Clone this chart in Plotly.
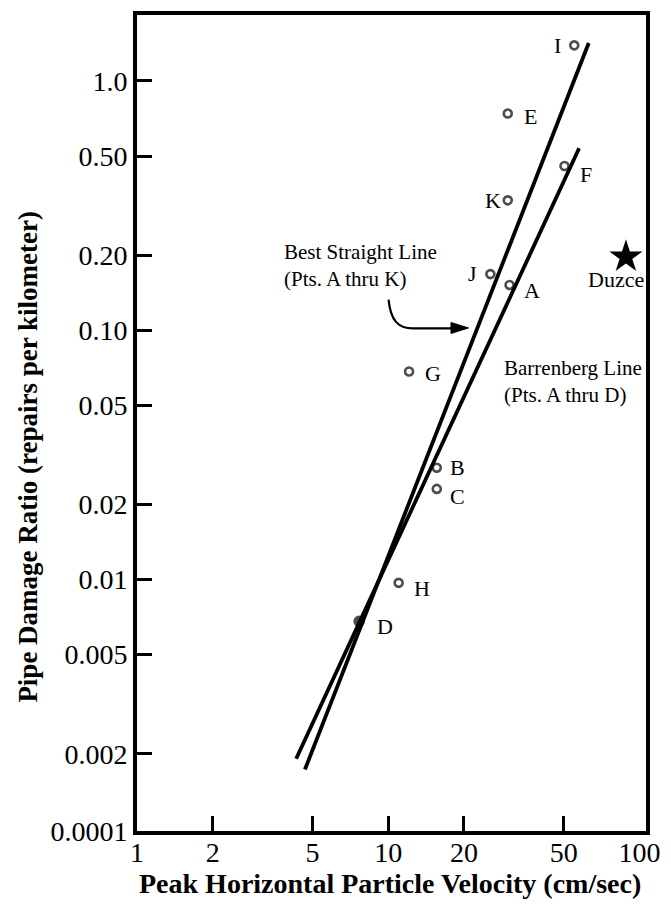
import math
import plotly.graph_objects as go

# ---------------- data ----------------
site_labels = ["A", "B", "C", "D", "E", "F", "G", "H", "I", "J", "K"]
site_pgv = [30.4, 15.6, 15.6, 7.66, 29.9, 50.3, 12.1, 11.0, 55.0, 25.5, 29.9]
site_ratio = [0.152, 0.0281, 0.0231, 0.0068, 0.74, 0.456, 0.0683, 0.0097, 1.39, 0.168, 0.332]

duzce_pgv = [88.3]
duzce_ratio = [0.197]

best_line_pgv = [4.66, 62.8]
best_line_ratio = [0.00173, 1.42]

barrenberg_line_pgv = [4.30, 57.5]
barrenberg_line_ratio = [0.00191, 0.537]

x_tick_vals = [1, 2, 5, 10, 20, 50, 100]
x_tick_text = ["1", "2", "5", "10", "20", "50", "100"]
x_mark_vals = [2, 5, 10, 20, 50]
y_tick_vals = [0.002, 0.005, 0.01, 0.02, 0.05, 0.1, 0.2, 0.5, 1.0]
y_tick_text = ["0.002", "0.005", "0.01", "0.02", "0.05", "0.10", "0.20", "0.50", "1.0"]
y_bottom_text = "0.0001"

# ---------------- layout constants ----------------
W, H = 671, 907
ML, MR, MT, MB = 137, 12, 11, 76
X_RANGE = [0.0, 2.0259]
Y_RANGE = [-3.00878, 0.26467]
FONT = "Liberation Serif"
PW = W - ML - MR
PH = H - MT - MB


def px(xp):
    return (xp - ML) / PW


def py(yp):
    return (H - MB - yp) / PH


fig = go.Figure()

fig.add_trace(go.Scatter(x=best_line_pgv, y=best_line_ratio, mode="lines",
                         line=dict(color="black", width=3.8), hoverinfo="skip"))
fig.add_trace(go.Scatter(x=barrenberg_line_pgv, y=barrenberg_line_ratio, mode="lines",
                         line=dict(color="black", width=3.8), hoverinfo="skip"))

symbols = ["circle" if n == "D" else "circle-open" for n in site_labels]
sizes = [9 if n == "D" else 8 for n in site_labels]
fig.add_trace(go.Scatter(x=site_pgv, y=site_ratio, mode="markers", text=site_labels,
                         marker=dict(symbol=symbols, size=sizes, color="black",
                                     line=dict(color="black", width=2.6))))

fig.add_trace(go.Scatter(x=duzce_pgv, y=duzce_ratio, mode="markers",
                         marker=dict(symbol="star", size=25, color="black"),
                         xaxis="x2", yaxis="y2"))

LBL = 22
# point labels: (xanchor, xshift, yshift)
label_style = {
    "A": ("left", 12, -6), "B": ("left", 11, 0), "C": ("left", 11, -8),
    "D": ("left", 16, -5), "E": ("left", 14, -3), "F": ("left", 13, -9),
    "G": ("left", 14, -2), "H": ("left", 13, -6), "I": ("right", -11, 0),
    "J": ("right", -11, 1), "K": ("right", -5, 0),
}
annotations = []
for name, xv, yv in zip(site_labels, site_pgv, site_ratio):
    xa, xs, ys = label_style[name]
    annotations.append(dict(x=math.log10(xv), y=math.log10(yv), xref="x", yref="y",
                            text=name, showarrow=False, xanchor=xa, yanchor="middle",
                            xshift=xs, yshift=ys,
                            font=dict(family=FONT, size=LBL, color="black")))
annotations.append(dict(x=math.log10(duzce_pgv[0]), y=math.log10(duzce_ratio[0]),
                        xref="x", yref="y", text="Duzce", showarrow=False,
                        xanchor="center", yanchor="middle", xshift=-10, yshift=-23,
                        font=dict(family=FONT, size=LBL, color="black")))

for txt, xp, yp in [("Best Straight Line<br>(Pts. A thru K)", 286, 263),
                    ("Barrenberg Line<br>(Pts. A thru D)", 511, 379)]:
    annotations.append(dict(x=px(xp), y=py(yp), xref="paper", yref="paper", text=txt,
                            showarrow=False, xanchor="left", yanchor="middle", align="left",
                            font=dict(family=FONT, size=21, color="black")))

annotations.append(dict(x=px(25), y=py(455), xref="paper", yref="paper",
                        text="<b>Pipe Damage Ratio (repairs per kilometer)</b>",
                        textangle=-90, showarrow=False, xanchor="center", yanchor="middle",
                        font=dict(family=FONT, size=27, color="black")))
annotations.append(dict(x=px(396), y=py(884), xref="paper", yref="paper",
                        text="<b>Peak Horizontal Particle Velocity (cm/sec)</b>",
                        showarrow=False, xanchor="center", yanchor="middle",
                        font=dict(family=FONT, size=28, color="black")))

# curved arrow pointing at the best straight line
curve = "M {:.5f},{:.5f} C {:.5f},{:.5f} {:.5f},{:.5f} {:.5f},{:.5f} L {:.5f},{:.5f}".format(
    px(395), py(297), px(397), py(318), px(405), py(326), px(420), py(326), px(462), py(326))
head = "M {:.5f},{:.5f} L {:.5f},{:.5f} L {:.5f},{:.5f} Z".format(
    px(477), py(325.5), px(459), py(320), px(459), py(331))
shapes = [
    dict(type="path", path=curve, xref="paper", yref="paper",
         line=dict(color="black", width=2.2)),
    dict(type="path", path=head, xref="paper", yref="paper",
         line=dict(color="black", width=1), fillcolor="black"),
]

axis_font = dict(family=FONT, size=28, color="black")
fig.update_layout(
    width=W, height=H,
    margin=dict(l=ML, r=MR, t=MT, b=MB, pad=0),
    paper_bgcolor="white", plot_bgcolor="white",
    showlegend=False,
    annotations=annotations,
    shapes=shapes,
    xaxis=dict(type="log", range=X_RANGE, tickvals=x_tick_vals, ticktext=x_tick_text,
               ticks="", showgrid=False, zeroline=False, showline=True, mirror=True,
               linecolor="black", linewidth=4, tickfont=axis_font, ticklabelstandoff=-7),
    yaxis=dict(type="log", range=Y_RANGE,
               tickvals=[10 ** Y_RANGE[0]] + y_tick_vals,
               ticktext=[y_bottom_text] + y_tick_text,
               ticks="", showgrid=False, zeroline=False, showline=True, mirror=True,
               linecolor="black", linewidth=4, tickfont=axis_font),
    xaxis2=dict(type="log", range=X_RANGE, overlaying="x", anchor="y2", side="bottom",
                tickvals=x_mark_vals, ticks="inside", ticklen=15, tickwidth=3.3,
                tickcolor="black", showticklabels=False, showgrid=False,
                zeroline=False, showline=False),
    yaxis2=dict(type="log", range=Y_RANGE, overlaying="y", anchor="x2", side="left",
                tickvals=y_tick_vals, ticks="inside", ticklen=15, tickwidth=3.3,
                tickcolor="black", showticklabels=False, showgrid=False,
                zeroline=False, showline=False),
)

fig.write_html("out.html")
